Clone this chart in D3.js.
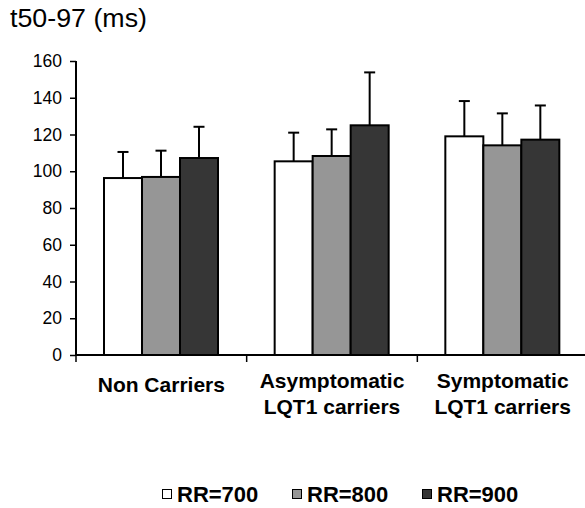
<!DOCTYPE html>
<html lang="en">
<head>
<meta charset="UTF-8">
<title>t50-97 by RR interval</title>
<script src="https://cdn.jsdelivr.net/npm/d3@7/dist/d3.min.js"></script>
<style>
  body { margin: 0; background: #fff; }
  text { font-family: Arial, "Liberation Sans", sans-serif; fill: #000; }
</style>
</head>
<body>
<script>
  var groups = ["Non Carriers", "Asymptomatic\nLQT1 carriers", "Symptomatic\nLQT1 carriers"];
  var series = ["RR=700", "RR=800", "RR=900"];
  var fills = ["#ffffff", "#969696", "#363636"];
  // mean values (ms), one array per group
  var nonCarriers = [96.3, 96.9, 107.2];
  var asymptomatic = [105.4, 108.3, 125.0];
  var symptomatic = [119.0, 114.1, 117.2];
  // standard deviations (upper error bars)
  var sdNon = [14.2, 14.3, 17.0];
  var sdAsym = [15.6, 14.5, 28.8];
  var sdSym = [19.2, 17.4, 18.6];
  var yTicks = [0, 20, 40, 60, 80, 100, 120, 140, 160];

  var means = [nonCarriers, asymptomatic, symptomatic];
  var sds = [sdNon, sdAsym, sdSym];

  var ancho = 585, alto = 508;
  var mLeft = 76, mRight = 588, mTop = 61, base = 355;

  var svg = d3.select("body").append("svg")
    .attr("width", ancho).attr("height", alto);

  var x0 = d3.scaleBand().domain(groups).range([mLeft, mRight]);
  var x1 = d3.scaleBand().domain(series).range([28, 142]);
  var y = d3.scaleLinear().domain([0, 160]).range([base, mTop]);

  // title
  svg.append("text")
    .attr("x", 10).attr("y", 27)
    .attr("font-size", 25)
    .attr("textLength", 137)
    .attr("lengthAdjust", "spacingAndGlyphs")
    .text("t50-97 (ms)");

  // bars
  var rows = [];
  groups.forEach(function(g, gi) {
    series.forEach(function(s, si) {
      rows.push({ group: g, serie: s, si: si, value: means[gi][si], sd: sds[gi][si] });
    });
  });

  svg.append("g").selectAll("rect")
    .data(rows)
    .enter()
    .append("rect")
    .attr("x", function(d) { return x0(d.group) + x1(d.serie); })
    .attr("y", function(d) { return y(d.value); })
    .attr("width", x1.bandwidth())
    .attr("height", function(d) { return base - y(d.value); })
    .attr("fill", function(d) { return fills[d.si]; })
    .attr("stroke", "#000")
    .attr("stroke-width", 2);

  // error bars (upper only)
  var capW = 11;
  var errs = svg.append("g").attr("stroke", "#000").attr("stroke-width", 2);
  rows.forEach(function(d) {
    var cx = x0(d.group) + x1(d.serie) + x1.bandwidth() / 2;
    errs.append("line")
      .attr("x1", cx).attr("x2", cx)
      .attr("y1", y(d.value)).attr("y2", y(d.value + d.sd));
    errs.append("line")
      .attr("x1", cx - capW / 2).attr("x2", cx + capW / 2)
      .attr("y1", y(d.value + d.sd)).attr("y2", y(d.value + d.sd));
  });

  // y axis
  var yAxis = d3.axisLeft(y).tickValues(yTicks).tickSize(6).tickPadding(8);
  var gy = svg.append("g")
    .attr("transform", "translate(" + mLeft + ",0)")
    .call(yAxis);
  gy.select(".domain").attr("stroke", "#000").attr("stroke-width", 2).attr("d", "M0," + mTop + "V" + base);
  gy.selectAll(".tick line").attr("stroke", "#000").attr("stroke-width", 1.5);
  gy.selectAll(".tick text").attr("font-size", 17.5).attr("font-family", "Arial, 'Liberation Sans', sans-serif").attr("fill", "#000");

  // x axis line + group separators
  svg.append("line")
    .attr("x1", mLeft).attr("x2", mRight)
    .attr("y1", base).attr("y2", base)
    .attr("stroke", "#000").attr("stroke-width", 2);
  svg.selectAll("line.sep")
    .data(groups)
    .enter()
    .append("line")
    .attr("class", "sep")
    .attr("x1", function(d) { return x0(d); })
    .attr("x2", function(d) { return x0(d); })
    .attr("y1", base).attr("y2", base + 7)
    .attr("stroke", "#000").attr("stroke-width", 1.5);

  // category labels
  var cats = svg.append("g");
  groups.forEach(function(g) {
    var lines = g.split("\n");
    var t = cats.append("text")
      .attr("text-anchor", "middle")
      .attr("font-size", 21)
      .attr("font-weight", "bold");
    var cx = x0(g) + x0.bandwidth() / 2;
    if (lines.length === 1) {
      t.attr("x", cx).attr("y", 392).text(lines[0]);
    } else {
      lines.forEach(function(l, i) {
        t.append("tspan").attr("x", cx).attr("y", 388 + i * 26).text(l);
      });
    }
  });

  // legend
  var legX = d3.scalePoint().domain(series).range([162, 422]);
  var leg = svg.append("g").selectAll("g")
    .data(series)
    .enter()
    .append("g")
    .attr("transform", function(d) { return "translate(" + legX(d) + ",489)"; });
  leg.append("rect")
    .attr("x", 0.5).attr("y", 0.5)
    .attr("width", 9).attr("height", 9)
    .attr("fill", function(d, i) { return fills[i]; })
    .attr("stroke", "#000").attr("stroke-width", 1);
  leg.append("text")
    .attr("x", 15).attr("y", 12.5)
    .attr("font-size", 22)
    .attr("font-weight", "bold")
    .text(function(d) { return d; });
</script>
</body>
</html>
